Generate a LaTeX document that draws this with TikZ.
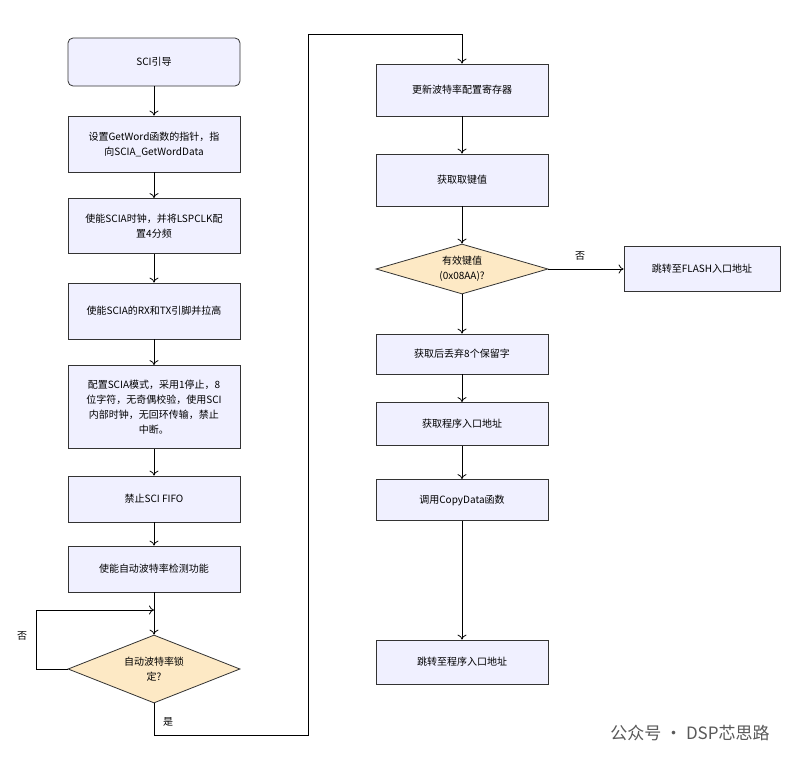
\documentclass[tikz,border=0pt]{standalone}
\usepackage{fontspec}
\setmainfont{Noto Sans CJK SC}
\usetikzlibrary{shapes.geometric,arrows.meta}
\begin{document}
\begin{tikzpicture}[x=1pt,y=-1pt,font=\fontsize{10}{15}\selectfont,
 box/.style={draw=black!80,fill=blue!6!white,minimum width=172pt,align=center,inner sep=2pt,line width=0.8pt},
 dia/.style={diamond,draw=black!80,fill=yellow!20!orange!20!white,aspect=2.5,minimum width=172pt,minimum height=50pt,inner sep=0pt,align=center,line width=0.8pt},
 ar/.style={-{To[length=5pt,width=9pt]},line width=0.8pt},
 ln/.style={line width=0.8pt}]
\useasboundingbox (0,0) rectangle (807,764);
\fill[white] (0,0) rectangle (807,764);
\node[box,rounded corners=5pt,minimum height=48pt] (a) at (154,62) {SCI引导};
\node[box,minimum height=56pt] (b) at (154,144) {设置GetWord函数的指针，指\\向SCIA\_GetWordData};
\node[box,minimum height=55pt] (c) at (154,226) {使能SCIA时钟，并将LSPCLK配\\置4分频};
\node[box,minimum height=56pt] (d) at (154,311) {使能SCIA的RX和TX引脚并拉高};
\node[box,minimum height=83pt] (e) at (154,407) {配置SCIA模式，采用1停止，8\\位字符，无奇偶校验，使用SCI\\内部时钟，无回环传输，禁止\\中断。};
\node[box,minimum height=46pt] (f) at (154,499) {禁止SCI FIFO};
\node[box,minimum height=46pt] (g) at (154,569) {使能自动波特率检测功能};
\node[dia,minimum height=68pt,aspect=2.53] (h) at (154,669) {自动波特率锁\\定?};
\coordinate (j) at (154,610);
\draw[ar] (a) -- (b);
\draw[ar] (b) -- (c);
\draw[ar] (c) -- (d);
\draw[ar] (d) -- (e);
\draw[ar] (e) -- (f);
\draw[ar] (f) -- (g);
\draw[ar] (g) -- (h);
\draw[ar] (h.west) -- (36,669) -- (36,610) -- (j);
\node at (22,636) {否};
\node at (168,722) {是};

\node[box,minimum height=52pt] (r1) at (462,90) {更新波特率配置寄存器};
\node[box,minimum height=52pt] (r2) at (462,180) {获取取键值};
\node[dia,minimum height=50pt] (r3) at (462,269) {有效键值\\(0x08AA)?};
\node[draw=black!80,fill=blue!6!white,line width=0.8pt,minimum width=156pt,minimum height=45pt] (fl) at (702,269) {跳转至FLASH入口地址};
\node[box,minimum height=40pt] (r4) at (462,354) {获取后丢弃8个保留字};
\node[box,minimum height=43pt] (r5) at (462,424) {获取程序入口地址};
\node[box,minimum height=41pt] (r6) at (462,500) {调用CopyData函数};
\node[box,minimum height=44pt] (r7) at (462,662) {跳转至程序入口地址};
\draw[ar] (h.south) -- (154,735) -- (308,735) -- (308,34) -- (462,34) -- (r1);
\draw[ar] (r1) -- (r2);
\draw[ar] (r2) -- (r3);
\draw[ar] (r3) -- (fl);
\node at (580,256) {否};
\draw[ar] (r3) -- (r4);
\draw[ar] (r4) -- (r5);
\draw[ar] (r5) -- (r6);
\draw[ar] (r6) -- (r7);
\node[text=black!65,font=\fontsize{17}{19}\selectfont] (wm) at (690,733) {公众号 · DSP芯思路};
\end{tikzpicture}
\end{document}
